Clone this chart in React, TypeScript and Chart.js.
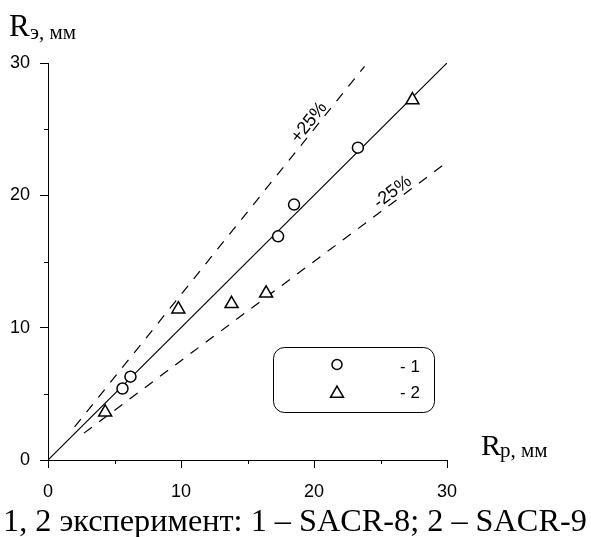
import React, { useEffect, useRef } from 'react';
import { Chart, registerables } from 'chart.js';

Chart.register(...registerables);

const W = 591;
const H = 537;

// Experiment 1 (SACR-8): circles
const circleX = [5.6, 6.2, 17.3, 18.5, 23.3];
const circleY = [5.4, 6.3, 16.9, 19.3, 23.6];
// Experiment 2 (SACR-9): triangles
const triX = [4.3, 9.8, 13.8, 16.4, 27.4];
const triY = [3.6, 11.4, 11.8, 12.6, 27.2];

// Reference lines
const fitX = [0, 30];
const fitY = [0, 30];
const plusX = [2.0, 23.8];
const plusY = [2.5, 29.75];
const minusX = [2.7, 30];
const minusY = [2.03, 22.5];

const axisMin = 0;
const axisMax = 30;
const majorStep = 10;
const minorTicks = [5, 15, 25];

const legendLabels = ['- 1', '- 2'];
const yTitleMain = 'R';
const yTitleSub = 'э, мм';
const xTitleMain = 'R';
const xTitleSub = 'р, мм';
const plusLabel = '+25%';
const minusLabel = '-25%';
const caption = '1, 2 эксперимент: 1 – SACR-8; 2 – SACR-9';

const SANS = "'Liberation Sans', Arial, sans-serif";
const SERIF = "'Liberation Serif', 'Times New Roman', serif";

const toPts = (xs: number[], ys: number[]) => xs.map((x, i) => ({ x, y: ys[i] }));

function drawTriangle(ctx: CanvasRenderingContext2D, x: number, y: number, r: number) {
  ctx.beginPath();
  let rad = 0;
  ctx.moveTo(x + Math.sin(rad) * r, y - Math.cos(rad) * r);
  rad += (2 * Math.PI) / 3;
  ctx.lineTo(x + Math.sin(rad) * r, y - Math.cos(rad) * r);
  rad += (2 * Math.PI) / 3;
  ctx.lineTo(x + Math.sin(rad) * r, y - Math.cos(rad) * r);
  ctx.closePath();
}

const overlay = {
  id: 'overlay',
  afterDraw(chart: any) {
    const ctx: CanvasRenderingContext2D = chart.ctx;
    const xs = chart.scales.x;
    const ys = chart.scales.y;
    const area = chart.chartArea;
    ctx.save();
    ctx.strokeStyle = '#000';
    ctx.fillStyle = '#000';
    ctx.lineWidth = 1;
    // minor ticks
    for (const v of minorTicks) {
      const px = Math.round(xs.getPixelForValue(v)) + 0.5;
      ctx.beginPath();
      ctx.moveTo(px, area.bottom);
      ctx.lineTo(px, area.bottom + 4);
      ctx.stroke();
      const py = Math.round(ys.getPixelForValue(v)) + 0.5;
      ctx.beginPath();
      ctx.moveTo(area.left - 4, py);
      ctx.lineTo(area.left, py);
      ctx.stroke();
    }

    // axis titles
    ctx.textBaseline = 'alphabetic';
    ctx.textAlign = 'left';
    ctx.font = `31px ${SERIF}`;
    ctx.fillText(yTitleMain, 9, 36);
    ctx.font = `21px ${SERIF}`;
    ctx.fillText(yTitleSub, 30, 39);

    ctx.font = `30px ${SERIF}`;
    ctx.fillText(xTitleMain, 481, 455);
    ctx.font = `21px ${SERIF}`;
    ctx.fillText(xTitleSub, 500, 457);

    // rotated percent labels
    const label = (text: string, vx: number, slope: number, off: number) => {
      const p0x = xs.getPixelForValue(vx);
      const p0y = ys.getPixelForValue(vx * slope);
      const p1x = xs.getPixelForValue(vx + 1);
      const p1y = ys.getPixelForValue((vx + 1) * slope);
      const ang = Math.atan2(p1y - p0y, p1x - p0x);
      const nx = Math.sin(ang);
      const ny = -Math.cos(ang);
      ctx.save();
      ctx.translate(p0x + nx * off, p0y + ny * off);
      ctx.rotate(ang);
      ctx.font = `18px ${SANS}`;
      ctx.textAlign = 'center';
      ctx.textBaseline = 'middle';
      ctx.fillText(text, 0, 0);
      ctx.restore();
    };
    label(plusLabel, 20.1, 1.25, 8);
    label(minusLabel, 26.3, 0.75, 8.6);

    // legend box
    const bx = 273.5, by = 347.5, bw = 161, bh = 65, br = 11;
    ctx.beginPath();
    ctx.moveTo(bx + br, by);
    ctx.lineTo(bx + bw - br, by);
    ctx.arcTo(bx + bw, by, bx + bw, by + br, br);
    ctx.lineTo(bx + bw, by + bh - br);
    ctx.arcTo(bx + bw, by + bh, bx + bw - br, by + bh, br);
    ctx.lineTo(bx + br, by + bh);
    ctx.arcTo(bx, by + bh, bx, by + bh - br, br);
    ctx.lineTo(bx, by + br);
    ctx.arcTo(bx, by, bx + br, by, br);
    ctx.closePath();
    ctx.fillStyle = '#fff';
    ctx.fill();
    ctx.stroke();

    ctx.lineWidth = 1.5;
    ctx.fillStyle = '#fff';
    ctx.beginPath();
    ctx.arc(337, 364.5, 5, 0, Math.PI * 2);
    ctx.fill();
    ctx.stroke();
    drawTriangle(ctx, 337, 393.5, 7.5);
    ctx.fill();
    ctx.stroke();

    ctx.fillStyle = '#000';
    ctx.font = `17px ${SANS}`;
    ctx.textAlign = 'left';
    ctx.textBaseline = 'alphabetic';
    ctx.fillText(legendLabels[0], 400, 372);
    ctx.fillText(legendLabels[1], 400, 398);

    // caption, sized to span the picture width
    ctx.font = `30px ${SERIF}`;
    const wMeasured = ctx.measureText(caption).width;
    const capSize = Math.min(34, (30 * 584) / wMeasured);
    ctx.font = `${capSize.toFixed(2)}px ${SERIF}`;
    ctx.fillText(caption, 3, 531);
    ctx.restore();
  },
};

export default function App() {
  const ref = useRef<HTMLCanvasElement>(null);
  useEffect(() => {
    const canvas = ref.current!;
    const chart = new Chart(canvas, {
      type: 'scatter',
      data: {
        datasets: [
          {
            label: '1',
            data: toPts(circleX, circleY),
            pointStyle: 'circle',
            pointRadius: 5.5,
            pointBorderWidth: 1.5,
            borderColor: '#000',
            backgroundColor: '#fff',
            showLine: false,
          },
          {
            label: '2',
            data: toPts(triX, triY),
            pointStyle: 'triangle',
            pointRadius: 7.5,
            pointBorderWidth: 1.5,
            borderColor: '#000',
            backgroundColor: '#fff',
            showLine: false,
          },
          {
            label: 'fit',
            data: toPts(fitX, fitY),
            showLine: true,
            pointRadius: 0,
            borderColor: '#000',
            borderWidth: 1.2,
          },
          {
            label: '+25%',
            data: toPts(plusX, plusY),
            showLine: true,
            pointRadius: 0,
            borderColor: '#000',
            borderWidth: 1.2,
            borderDash: [10, 9],
          },
          {
            label: '-25%',
            data: toPts(minusX, minusY),
            showLine: true,
            pointRadius: 0,
            borderColor: '#000',
            borderWidth: 1.2,
            borderDash: [10, 9],
          },
        ],
      } as any,
      options: {
        responsive: false,
        animation: false,
        events: [],
        layout: { padding: { left: 0, right: W - 447, top: 63, bottom: 0 } },
        plugins: {
          legend: { display: false },
          tooltip: { enabled: false },
          title: { display: false },
        },
        scales: {
          x: {
            type: 'linear',
            min: axisMin,
            max: axisMax,
            ticks: {
              stepSize: majorStep,
              color: '#000',
              font: { family: SANS, size: 18 },
              padding: 13,
              maxRotation: 0,
            },
            grid: {
              drawOnChartArea: false,
              drawTicks: true,
              tickLength: 8,
              color: '#000',
              lineWidth: 1,
            },
            border: { display: true, color: '#000', width: 1 },
            afterFit: (s: any) => {
              s.height = H - 460;
            },
          },
          y: {
            type: 'linear',
            min: axisMin,
            max: axisMax,
            ticks: {
              stepSize: majorStep,
              color: '#000',
              font: { family: SANS, size: 18 },
              padding: 10,
            },
            grid: {
              drawOnChartArea: false,
              drawTicks: true,
              tickLength: 8,
              color: '#000',
              lineWidth: 1,
            },
            border: { display: true, color: '#000', width: 1 },
            afterFit: (s: any) => {
              s.width = 48;
            },
          },
        },
      } as any,
      plugins: [overlay],
    });
    return () => chart.destroy();
  }, []);
  return (
    <div style={{ position: 'absolute', left: 0, top: 0, width: W, height: H, background: '#fff' }}>
      <canvas ref={ref} width={W} height={H} style={{ display: 'block', width: W, height: H }} />
    </div>
  );
}
